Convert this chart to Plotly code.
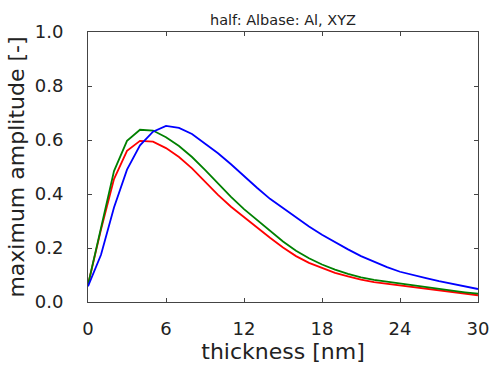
import plotly.graph_objects as go

thickness = list(range(0, 31))

blue = [0.058, 0.175, 0.35, 0.49, 0.58, 0.631, 0.652, 0.645, 0.622, 0.588,
        0.551, 0.51, 0.466, 0.423, 0.382, 0.347, 0.314, 0.280, 0.249, 0.221,
        0.195, 0.170, 0.148, 0.129, 0.112, 0.099, 0.088, 0.077, 0.067, 0.057, 0.048]
green = [0.064, 0.273, 0.485, 0.597, 0.638, 0.635, 0.61, 0.578, 0.537, 0.489,
         0.438, 0.389, 0.344, 0.303, 0.262, 0.224, 0.19, 0.162, 0.139, 0.12,
         0.104, 0.091, 0.082, 0.075, 0.069, 0.061, 0.054, 0.048, 0.042, 0.036, 0.031]
red = [0.064, 0.268, 0.455, 0.56, 0.597, 0.594, 0.57, 0.537, 0.495, 0.446,
       0.397, 0.353, 0.314, 0.276, 0.238, 0.202, 0.17, 0.145, 0.126, 0.108,
       0.095, 0.083, 0.074, 0.068, 0.062, 0.055, 0.049, 0.043, 0.037, 0.031, 0.025]

x_ticks = [0, 6, 12, 18, 24, 30]
y_ticks = [0.0, 0.2, 0.4, 0.6, 0.8, 1.0]
y_tick_text = ["0.0", "0.2", "0.4", "0.6", "0.8", "1.0"]

fig = go.Figure()
for vals, col in [(red, "#ff0000"), (green, "#008000"), (blue, "#0000ff")]:
    fig.add_trace(go.Scatter(x=thickness, y=vals, mode="lines",
                             line=dict(color=col, width=1.8), showlegend=False))

font = "DejaVu Sans"
fig.update_layout(
    width=490, height=365,
    margin=dict(l=88, r=12, t=32, b=63),
    paper_bgcolor="white", plot_bgcolor="white",
    font=dict(family=font, color="#222"),
    title=dict(text="half: Albase: Al, XYZ", x=0.5, xanchor="center",
               xref="paper", y=1 - 20 / 365, yanchor="middle",
               font=dict(size=14.5, family=font, color="#222")),
    xaxis=dict(range=[0, 30], tickvals=x_ticks, ticks="inside", ticklen=4,
               tickcolor="#444", showgrid=False, zeroline=False,
               showline=True, linecolor="#444", linewidth=1, mirror="ticks",
               tickfont=dict(size=18, family=font, color="#222"),
               ticklabelstandoff=10, automargin=False,
               title=dict(text="thickness [nm]", standoff=0,
                          font=dict(size=22, family=font, color="#222"))),
    yaxis=dict(range=[0, 1.0], tickvals=y_ticks, ticktext=y_tick_text,
               ticks="inside", ticklen=4, tickcolor="#444", showgrid=False,
               zeroline=False, showline=True, linecolor="#444", linewidth=1,
               mirror="ticks",
               tickfont=dict(size=18, family=font, color="#222"),
               ticklabelstandoff=20, automargin=False,
               title=dict(text="maximum amplitude [-]", standoff=4,
                          font=dict(size=22, family=font, color="#222"))),
)

fig.write_html("out.html", config={"displayModeBar": False},
               post_script="document.body.style.margin='0';document.body.style.overflow='hidden';")
